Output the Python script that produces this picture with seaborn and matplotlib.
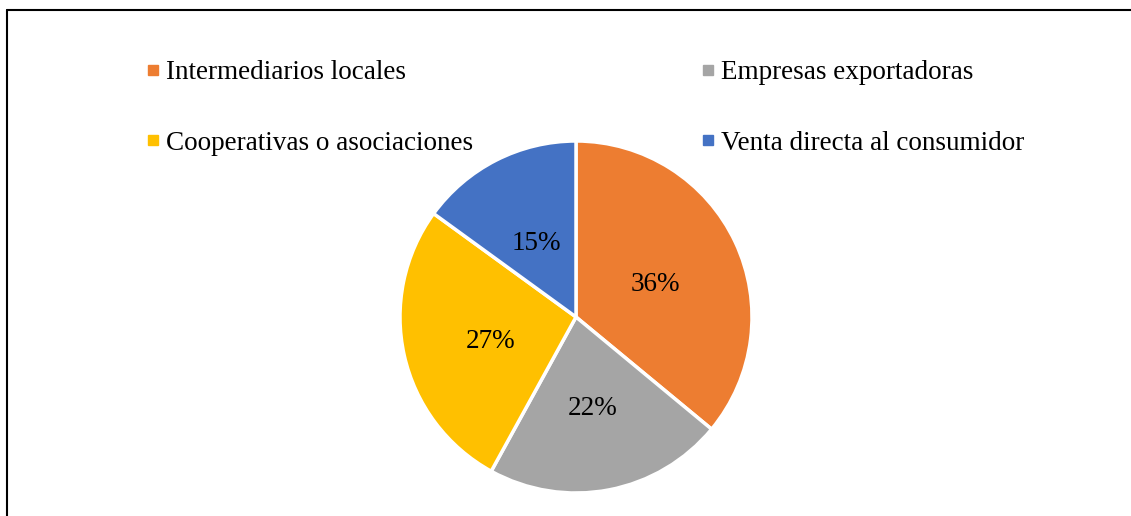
import matplotlib
matplotlib.use("Agg")
import matplotlib.pyplot as plt
from matplotlib.lines import Line2D
import seaborn as sns

categories = ["Intermediarios locales", "Empresas exportadoras",
              "Cooperativas o asociaciones", "Venta directa al consumidor"]
values = [36, 22, 27, 15]
colors = ["#ED7D31", "#A5A5A5", "#FFC000", "#4472C4"]

sns.set_theme(style="white")
plt.rcParams["font.family"] = ["Liberation Serif", "DejaVu Serif"]
plt.rcParams["text.color"] = "black"

W, H = 1131, 516
fig = plt.figure(figsize=(W / 100, H / 100), dpi=100)
fig.patch.set_facecolor("white")

cx, cy, r = 576, 317, 176
ax = fig.add_axes([(cx - r) / W, (H - cy - r) / H, 2 * r / W, 2 * r / H])
pal = sns.color_palette(colors)
wedges, texts, autotexts = ax.pie(
    values, colors=pal, startangle=90, counterclock=False,
    autopct=lambda p: f"{p:.0f}%", pctdistance=0.5,
    wedgeprops=dict(edgecolor="white", linewidth=2.5),
    textprops=dict(fontsize=19.5, color="black"))
for t in autotexts:
    x, y = t.get_position()
    t.set_position((x, y - 5 / r))
ax.set_xlim(-1, 1)
ax.set_ylim(-1, 1)
ax.set_aspect("equal")
ax.axis("off")

fs = 19.5
handles = [Line2D([], [], marker="s", linestyle="none", markersize=7,
                  markerfacecolor=c, markeredgecolor=c) for c in colors]
order = [0, 2, 1, 3]
fig.legend([handles[i] for i in order], [categories[i] for i in order],
           ncol=2, loc="upper left", bbox_to_anchor=(148 / W, 1 - 60 / H),
           frameon=False, fontsize=fs, borderpad=0, borderaxespad=0,
           handlelength=0.4, handletextpad=0.25, columnspacing=8.5,
           labelspacing=1.68, labelcolor="black")

lw = 1.5
fig.add_artist(Line2D([7 / W, 1], [1 - 10 / H, 1 - 10 / H], transform=fig.transFigure,
                      color="black", linewidth=lw))
fig.add_artist(Line2D([7 / W, 7 / W], [0, 1 - 10 / H], transform=fig.transFigure,
                      color="black", linewidth=lw))

fig.savefig("out.png", dpi=100, facecolor="white")
